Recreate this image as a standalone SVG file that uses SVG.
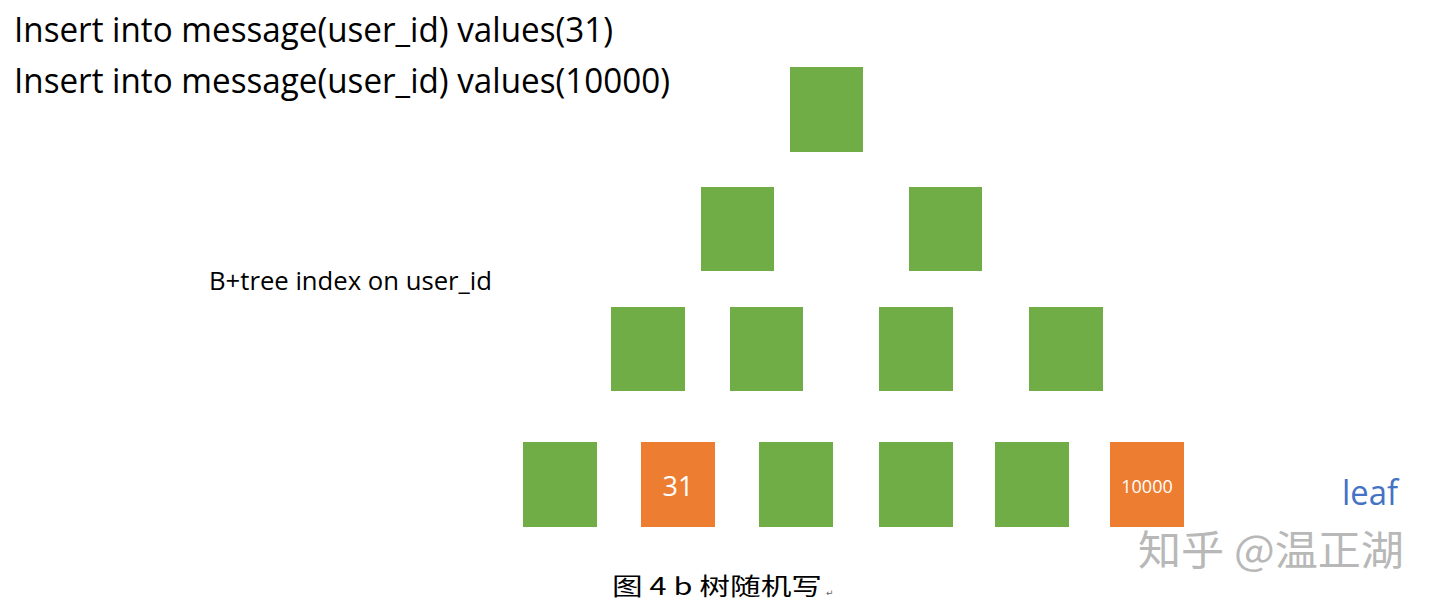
<svg xmlns="http://www.w3.org/2000/svg" width="1440" height="609" viewBox="0 0 1440 609">
<style>
.g{fill:#70AD47}
.o{fill:#ED7D31}
.t{font-family:"Open Sans","Liberation Sans",sans-serif;fill:#000}
.w{font-family:"Open Sans","Liberation Sans",sans-serif;fill:#fff;text-anchor:middle}
.cjk{font-family:"Noto Sans CJK SC",sans-serif}
</style>
<rect width="1440" height="609" fill="#fff"/>
<text class="t" x="14" y="42" font-size="35" textLength="599" lengthAdjust="spacingAndGlyphs">Insert into message(user_id) values(31)</text>
<text class="t" x="14" y="93" font-size="35" textLength="656" lengthAdjust="spacingAndGlyphs">Insert into message(user_id) values(10000)</text>
<text class="t" x="209" y="290" font-size="26" textLength="283" lengthAdjust="spacingAndGlyphs">B+tree index on user_id</text>
<g id="connectors"></g>
<g id="root"><rect class="g" x="790" y="67" width="73" height="85"/></g>
<g id="n2a"><rect class="g" x="701" y="187" width="73" height="84"/></g>
<g id="n2b"><rect class="g" x="909" y="187" width="73" height="84"/></g>
<g id="n3a"><rect class="g" x="611" y="307" width="74" height="84"/></g>
<g id="n3b"><rect class="g" x="730" y="307" width="73" height="84"/></g>
<g id="n3c"><rect class="g" x="879" y="307" width="74" height="84"/></g>
<g id="n3d"><rect class="g" x="1029" y="307" width="74" height="84"/></g>
<g id="l1"><rect class="g" x="523" y="442" width="74" height="85"/></g>
<g id="l2"><rect class="o" x="641" y="442" width="74" height="85"/><text class="w" x="678" y="496" font-size="27">31</text></g>
<g id="l3"><rect class="g" x="759" y="442" width="74" height="85"/></g>
<g id="l4"><rect class="g" x="879" y="442" width="74" height="85"/></g>
<g id="l5"><rect class="g" x="995" y="442" width="74" height="85"/></g>
<g id="l6"><rect class="o" x="1110" y="442" width="74" height="85"/><text class="w" x="1147" y="493" font-size="18">10000</text></g>
<text x="1342" y="505" font-size="34" fill="#4472C4" font-family="Open Sans, Liberation Sans, sans-serif" textLength="56" lengthAdjust="spacingAndGlyphs">leaf</text>
<text class="cjk" x="1138" y="565" font-size="41" fill="#b8b8b8" textLength="266" lengthAdjust="spacingAndGlyphs">知乎 @温正湖</text>
<text x="612" y="595" font-size="24" fill="#000" font-family="Noto Sans CJK SC, serif" textLength="210" lengthAdjust="spacingAndGlyphs">图 4 b 树随机写</text>
<text x="826" y="596" font-size="9" fill="#666" font-family="DejaVu Sans, sans-serif">↵</text>
</svg>
